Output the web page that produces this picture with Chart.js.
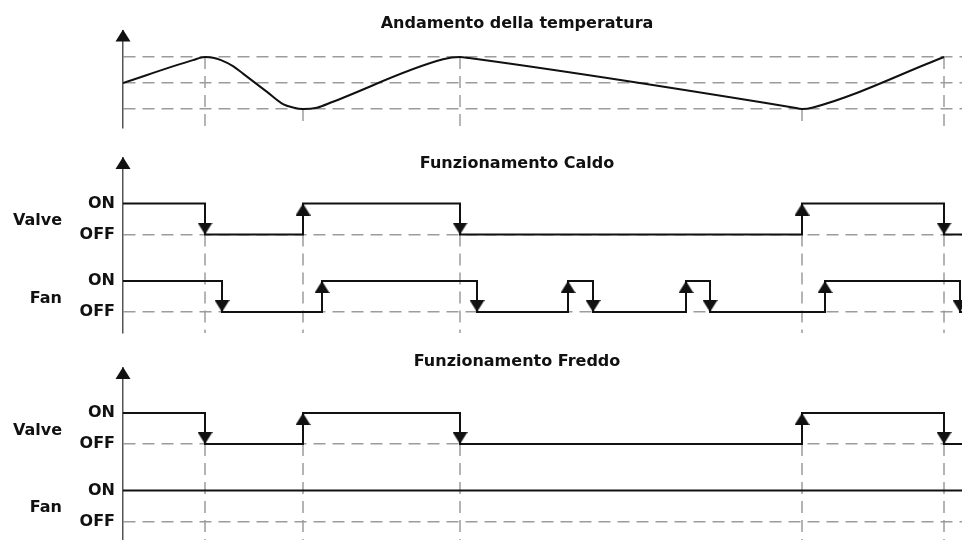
<!DOCTYPE html>
<html>
<head>
<meta charset="utf-8">
<script src="https://cdn.jsdelivr.net/npm/chart.js@4"></script>
<style>
  html, body { margin: 0; padding: 0; background: #fff; }
  #wrap { position: relative; width: 962px; height: 540px; overflow: hidden; }
  canvas { position: absolute; left: 0; }
</style>
</head>
<body>
<div id="wrap">
  <canvas id="tempChart" width="962" height="135" style="top:0px"></canvas>
  <canvas id="caldoChart" width="962" height="205" style="top:135px"></canvas>
  <canvas id="freddoChart" width="962" height="200" style="top:340px"></canvas>
</div>
<script>
// time axis (arbitrary units) and switching instants
const endTime = 839;
const switchTimes = [82, 180, 337, 679, 821];

// temperature trend (-1 = lower threshold, 0 = setpoint, 1 = upper threshold)
const tempTimes  = [0, 70, 82, 90, 98, 110, 120, 144, 160, 170, 180, 194, 210, 320, 337, 346, 670, 679, 690, 821];
const tempValues = [0, 0.88, 1, 0.97, 0.88, 0.65, 0.36, -0.34, -0.81, -0.94, -1, -0.95, -0.72, 0.91, 1, 0.96, -0.94, -1, -0.94, 1];
const tempLevels = [-1, 0, 1];

// heating mode (1 = ON, 0 = OFF)
const caldoValveTimes  = [0, 82, 180, 337, 679, 821];
const caldoValveStates = [1, 0, 1, 0, 1, 0];
const caldoFanTimes    = [0, 99, 199, 354, 445, 470, 563, 587, 702, 837];
const caldoFanStates   = [1, 0, 1, 0, 1, 0, 1, 0, 1, 0];

// cooling mode
const freddoValveTimes  = [0, 82, 180, 337, 679, 821];
const freddoValveStates = [1, 0, 1, 0, 1, 0];
const freddoFanTimes    = [0];
const freddoFanStates   = [1];

const stateLabels = ['OFF', 'ON'];
const signalNames = ['Valve', 'Fan'];

const VALVE_ROW = 2.5;
const FAN_ROW = 0;
const INK = '#111';
const DASH_GRAY = '#9c9c9c';
const FONT = 'DejaVu Sans';

Chart.defaults.font.family = FONT;
Chart.defaults.color = INK;

// arrow head with its tip in the centre of the image
const arrowImg = document.createElement('canvas');
arrowImg.width = 15;
arrowImg.height = 24;
const actx = arrowImg.getContext('2d');
actx.fillStyle = INK;
actx.beginPath();
actx.moveTo(0, 0);
actx.lineTo(15, 0);
actx.lineTo(7.5, 12);
actx.closePath();
actx.fill();

function stepPoints(times, states, row) {
    const pts = times.map((t, i) => ({ x: t, y: row + states[i] }));
    pts.push({ x: endTime, y: row + states[states.length - 1] });
    return pts;
}

function arrowPoints(times, states, row) {
    const pts = [];
    for (let i = 1; i < times.length; i++) {
        pts.push({ x: times[i], y: row + states[i], up: states[i] === 1 });
    }
    return pts;
}

function markerPoints(times, fromFn, toY) {
    const pts = [];
    times.forEach(t => {
        pts.push({ x: t, y: fromFn(t) }, { x: t, y: toY }, { x: t, y: null });
    });
    return pts;
}

// titles, signal names and the axis arrow head
const panelDeco = {
    id: 'panelDeco',
    afterDraw(chart, args, opts) {
        const ctx = chart.ctx;
        const area = chart.chartArea;
        const y = chart.scales.y;
        ctx.save();
        // axis arrow
        ctx.fillStyle = INK;
        ctx.beginPath();
        ctx.moveTo(area.left, area.top - 1);
        ctx.lineTo(area.left + 7.5, area.top + 11);
        ctx.lineTo(area.left - 7.5, area.top + 11);
        ctx.closePath();
        ctx.fill();
        // title
        ctx.font = 'bold 16px ' + FONT;
        ctx.textAlign = 'center';
        ctx.textBaseline = 'alphabetic';
        ctx.fillText(opts.title, 517, opts.titleY);
        // signal names
        ctx.textAlign = 'right';
        ctx.textBaseline = 'middle';
        (opts.rows || []).forEach((row, i) => {
            ctx.fillText(signalNames[i], 62, y.getPixelForValue(row + 0.5) + 2);
        });
        ctx.restore();
    }
};

function yScale(min, max, levels, labels, offLevels) {
    return {
        type: 'linear',
        min: min,
        max: max,
        afterBuildTicks: s => { s.ticks = levels.map(v => ({ value: v })); },
        afterFit: s => { s.width = 123; s.paddingTop = 0; s.paddingBottom = 0; },
        ticks: {
            autoSkip: false,
            padding: 8,
            font: { size: 16, weight: 'bold' },
            callback: (v, i) => labels ? labels[i] : ''
        },
        grid: {
            drawTicks: false,
            lineWidth: 1.5,
            color: c => (c.tick && offLevels.includes(c.tick.value)) ? DASH_GRAY : 'rgba(0,0,0,0)'
        },
        border: { display: true, color: '#555', width: 1.5, dash: [12, 7] }
    };
}

function baseOptions(yOpts, padTop, padBottom, deco) {
    return {
        responsive: false,
        animation: false,
        events: [],
        layout: { autoPadding: false, padding: { top: padTop, bottom: padBottom, left: 0, right: 0 } },
        elements: { point: { radius: 0 } },
        plugins: { legend: { display: false }, tooltip: { enabled: false }, panelDeco: deco },
        scales: {
            x: { type: 'linear', min: 0, max: endTime, display: false },
            y: yOpts
        }
    };
}

function traceDataset(points) {
    return { data: points, stepped: true, borderColor: INK, borderWidth: 2, fill: false, order: 1 };
}

function arrowDataset(points) {
    return {
        data: points, showLine: false, order: 0,
        pointRadius: 7, pointStyle: arrowImg,
        pointRotation: c => (c.raw && c.raw.up) ? 180 : 0
    };
}

function markerDataset(points) {
    return {
        data: points, spanGaps: false, borderColor: DASH_GRAY, borderWidth: 1.5,
        borderDash: [12, 7], fill: false, order: 3
    };
}

// --- temperature panel ---
const tempMin = -1.731, tempMax = 2.019;
new Chart(document.getElementById('tempChart'), {
    type: 'line',
    data: {
        datasets: [
            {
                data: tempTimes.map((t, i) => ({ x: t, y: tempValues[i] })),
                borderColor: INK, borderWidth: 2, fill: false,
                cubicInterpolationMode: 'monotone', order: 1
            },
            markerDataset(markerPoints(switchTimes, t => tempValues[tempTimes.indexOf(t)], tempMin))
        ]
    },
    options: baseOptions(yScale(tempMin, tempMax, tempLevels, null, tempLevels), 30.5, 7,
        { title: 'Andamento della temperatura', titleY: 28, rows: [] }),
    plugins: [panelDeco]
});

// --- switching panels ---
function switchChart(id, title, titleY, valveTimes, valveStates, fanTimes, fanStates, min, max, padTop, padBottom) {
    const levels = [FAN_ROW, FAN_ROW + 1, VALVE_ROW, VALVE_ROW + 1];
    const labels = [stateLabels[0], stateLabels[1], stateLabels[0], stateLabels[1]];
    new Chart(document.getElementById(id), {
        type: 'line',
        data: {
            datasets: [
                traceDataset(stepPoints(valveTimes, valveStates, VALVE_ROW)),
                traceDataset(stepPoints(fanTimes, fanStates, FAN_ROW)),
                arrowDataset(arrowPoints(valveTimes, valveStates, VALVE_ROW)),
                arrowDataset(arrowPoints(fanTimes, fanStates, FAN_ROW)),
                markerDataset(markerPoints(switchTimes, () => VALVE_ROW, min))
            ]
        },
        options: baseOptions(yScale(min, max, levels, labels, [FAN_ROW, VALVE_ROW]), padTop, padBottom,
            { title: title, titleY: titleY, rows: [VALVE_ROW, FAN_ROW] }),
        plugins: [panelDeco]
    });
}

switchChart('caldoChart', 'Funzionamento Caldo', 33,
    caldoValveTimes, caldoValveStates, caldoFanTimes, caldoFanStates, -0.677, 4.968, 23, 7);
switchChart('freddoChart', 'Funzionamento Freddo', 26,
    freddoValveTimes, freddoValveStates, freddoFanTimes, freddoFanStates, -0.597, 4.952, 28, 0);
</script>
</body>
</html>
